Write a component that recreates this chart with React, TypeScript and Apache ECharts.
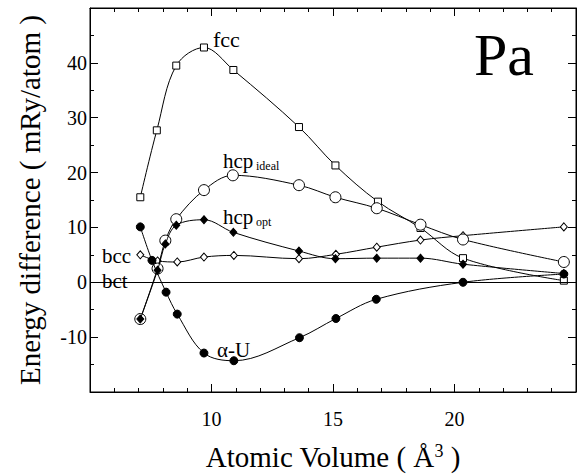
import React, { useEffect, useRef } from "react";
import * as echarts from "echarts";

const fccX = [7.07, 7.75, 8.55, 9.69, 10.9, 13.6, 15.1, 16.85, 18.6, 20.35, 24.5];
const fccY = [15.5, 27.7, 39.5, 42.8, 38.7, 28.3, 21.3, 14.7, 9.9, 4.4, 0.3];

const hcpIdealX = [7.07, 7.78, 8.1, 8.55, 9.69, 10.88, 13.6, 15.1, 16.8, 18.6, 20.35, 24.5];
const hcpIdealY = [-6.7, 2.5, 7.6, 11.5, 16.8, 19.5, 17.7, 15.5, 13.5, 10.5, 7.8, 3.7];

const hcpOptX = [7.07, 7.78, 8.1, 8.55, 9.69, 10.9, 13.6, 15.1, 16.8, 18.6, 20.35, 24.5];
const hcpOptY = [-6.7, 2.2, 7.0, 10.4, 11.4, 9.1, 5.7, 4.3, 4.4, 4.4, 3.3, 1.6];

const bccX = [7.07, 7.78, 8.59, 9.69, 10.92, 13.6, 15.12, 16.8, 18.6, 20.35, 24.5];
const bccY = [5.0, 3.9, 3.7, 4.6, 4.9, 4.3, 5.1, 6.4, 7.7, 8.5, 10.1];

const alphaUX = [7.07, 7.55, 8.13, 8.59, 9.69, 10.92, 13.62, 15.12, 16.78, 20.35, 24.5];
const alphaUY = [10.1, 4.0, -1.8, -5.8, -12.9, -14.3, -10.1, -6.6, -3.1, 0.0, 1.5];

const xTickLabels = [10, 15, 20];
const yTickLabels = [-10, 0, 10, 20, 30, 40];

const FONT = "'Liberation Serif', 'Times New Roman', serif";

const zip = (xs: number[], ys: number[]) => xs.map((x, i) => [x, ys[i]]);

export default function App() {
  const ref = useRef<HTMLDivElement>(null);
  useEffect(() => {
    if (!ref.current) return;
    const chart = echarts.init(ref.current, undefined, { renderer: "svg" });
    const axisCommon = {
      type: "value" as const,
      axisLine: { show: true, onZero: false, lineStyle: { color: "#000", width: 1 } },
      axisTick: { show: true, inside: true, length: 8, lineStyle: { color: "#000" } },
      splitLine: { show: false },
    };
    const baseSeries = (name: string, data: number[][], symbol: string, size: any, fill: string, z: number) => ({
      name,
      type: "line",
      data,
      smooth: 0.35,
      symbol,
      symbolSize: size,
      showAllSymbol: true,
      lineStyle: { color: "#000", width: 1 },
      itemStyle: { color: fill, borderColor: "#000", borderWidth: 1 },
      z,
    });
    chart.setOption({
      animation: false,
      backgroundColor: "#fff",
      grid: { left: 90, right: 3, top: 8, bottom: 73, show: true, borderColor: "#000", borderWidth: 1 },
      xAxis: [
        {
          ...axisCommon,
          position: "bottom",
          min: 5,
          max: 25,
          interval: 5,
          minorTick: { show: true, splitNumber: 5, length: 4, lineStyle: { color: "#000" } },
          axisLabel: {
            color: "#000",
            fontFamily: FONT,
            fontSize: 20,
            margin: 17,
            formatter: (v: number) => (xTickLabels.includes(v) ? String(v) : ""),
          },
          name: "{a|Atomic Volume ( Å}{s|3}{a| )}",
          nameLocation: "middle",
          nameGap: 50,
          nameTextStyle: {
            rich: {
              a: { fontFamily: FONT, fontSize: 29, color: "#000" },
              s: { fontFamily: FONT, fontSize: 18, color: "#000", verticalAlign: "top" },
            },
          },
        },
        {
          ...axisCommon,
          position: "top",
          min: 5,
          max: 25,
          interval: 5,
          minorTick: { show: true, splitNumber: 5, length: 4, lineStyle: { color: "#000" } },
          axisLabel: { show: false },
        },
      ],
      yAxis: [
        {
          ...axisCommon,
          position: "left",
          min: -20,
          max: 50,
          interval: 10,
          minorTick: { show: true, splitNumber: 2, length: 4, lineStyle: { color: "#000" } },
          axisLabel: {
            color: "#000",
            fontFamily: FONT,
            fontSize: 20,
            margin: 3,
            formatter: (v: number) => (yTickLabels.includes(v) ? String(v) : ""),
          },
          name: "Energy difference ( mRy/atom )",
          nameLocation: "middle",
          nameGap: 46,
          nameTextStyle: { fontFamily: FONT, fontSize: 29, color: "#000" },
        },
        {
          ...axisCommon,
          position: "right",
          min: -20,
          max: 50,
          interval: 10,
          minorTick: { show: true, splitNumber: 2, length: 4, lineStyle: { color: "#000" } },
          axisLabel: { show: false },
        },
      ],
      series: [
        {
          ...baseSeries("bcc", zip(bccX, bccY), "diamond", [7, 8], "#fff", 2),
          markLine: {
            silent: true,
            symbol: "none",
            label: { show: false },
            lineStyle: { color: "#000", width: 1, type: "solid" },
            data: [{ yAxis: 0 }],
          },
        },
        baseSeries("fcc", zip(fccX, fccY), "rect", 7, "#fff", 3),
        baseSeries("hcp ideal", zip(hcpIdealX, hcpIdealY), "circle", 11, "#fff", 4),
        baseSeries("hcp opt", zip(hcpOptX, hcpOptY), "diamond", [7, 8], "#000", 5),
        baseSeries("α-U", zip(alphaUX, alphaUY), "circle", 8, "#000", 6),
      ],
      graphic: [
        { type: "text", x: 213, y: 39, style: { text: "fcc", font: `22px ${FONT}`, fill: "#000", verticalAlign: "middle" } },
        { type: "text", x: 223, y: 161, style: { text: "hcp", font: `21px ${FONT}`, fill: "#000", verticalAlign: "middle" } },
        { type: "text", x: 256, y: 166, style: { text: "ideal", font: `12px ${FONT}`, fill: "#000", verticalAlign: "middle" } },
        { type: "text", x: 223, y: 217, style: { text: "hcp", font: `21px ${FONT}`, fill: "#000", verticalAlign: "middle" } },
        { type: "text", x: 256, y: 222, style: { text: "opt", font: `12px ${FONT}`, fill: "#000", verticalAlign: "middle" } },
        { type: "text", x: 102, y: 256, style: { text: "bcc", font: `21px ${FONT}`, fill: "#000", verticalAlign: "middle" } },
        { type: "text", x: 102, y: 281, style: { text: "bct", font: `21px ${FONT}`, fill: "#000", verticalAlign: "middle" } },
        { type: "text", x: 217, y: 350, style: { text: "α-U", font: `21px ${FONT}`, fill: "#000", verticalAlign: "middle" } },
        { type: "text", x: 474, y: 55, style: { text: "Pa", font: `60px ${FONT}`, fill: "#000", verticalAlign: "middle" } },
      ],
    });
    return () => chart.dispose();
  }, []);
  return <div ref={ref} style={{ position: "fixed", left: 0, top: 0, width: 579, height: 476 }} />;
}
